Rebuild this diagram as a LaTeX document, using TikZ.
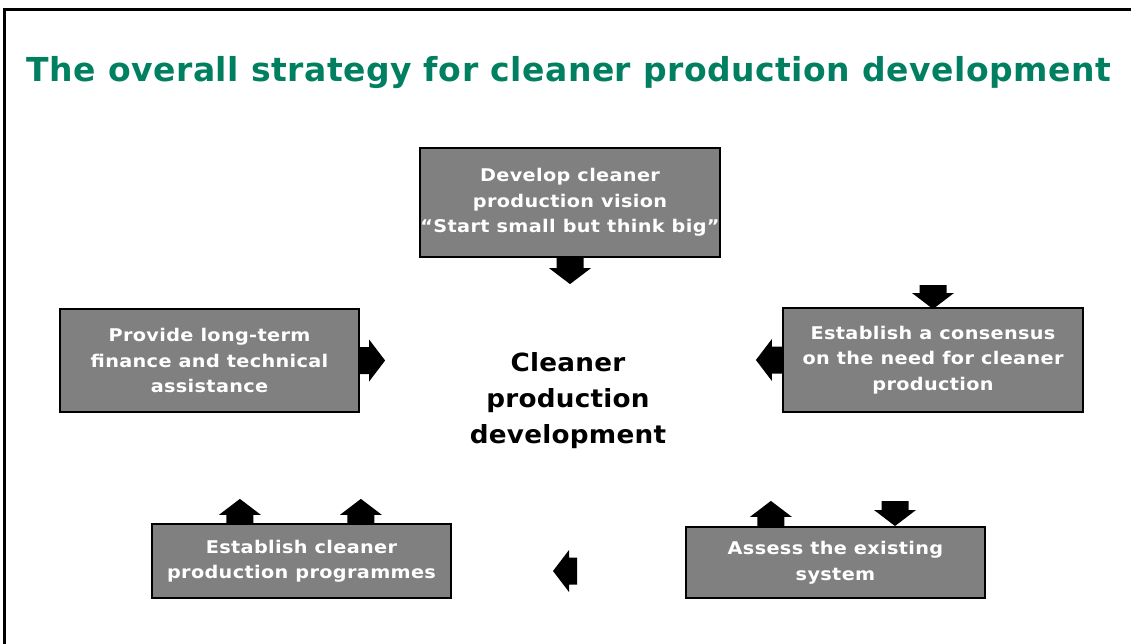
\documentclass[tikz,border=0pt]{standalone}
\usepackage{fontspec}
\usetikzlibrary{calc}
\setmainfont{DejaVu Sans}
\newfontfamily\titlefont[LetterSpace=1.6]{DejaVu Sans}
\newfontfamily\hubfont[FakeStretch=1.05, LetterSpace=1]{DejaVu Sans}
\newfontfamily\boxfont[FakeStretch=1.1, LetterSpace=2]{DejaVu Sans}
\definecolor{titlegreen}{RGB}{0,128,96}
\definecolor{boxgray}{RGB}{128,128,128}
% Solid black block arrow: #1 base point, #2 direction (degrees), #3 total length
\newcommand\blockarrow[3]{%
  \fill[black, shift={(#1)}, rotate=#2]
    (0,-13.5) -- ({#3-16},-13.5) -- ({#3-16},-21) -- (#3,0)
    -- ({#3-16},21) -- ({#3-16},13.5) -- (0,13.5) -- cycle;}
\begin{document}
\begin{tikzpicture}[x=1pt,y=-1pt,
  stepbox/.style={draw=black, line width=2.2pt, fill=boxgray, text=white,
    font=\boxfont\fontsize{17.5}{25.5}\selectfont\bfseries, align=center, inner sep=0pt},
  hub/.style={font=\hubfont\fontsize{25}{36}\selectfont\bfseries, align=center, text=black}]
\useasboundingbox (0,0) rectangle (1131,644);
% page frame
\draw[line width=3pt] (4,660) -- (4,10) -- (1140,10);
% title
\node[text=titlegreen, font=\titlefont\fontsize{33}{40}\selectfont\bfseries, anchor=base]
  (title) at (569,82) {The overall strategy for cleaner production development};
% hub text
\node[hub] (hub) at (568,401) {Cleaner\\production\\development};
% strategy steps
\node[stepbox, minimum width=300, minimum height=109] (vision) at (570,202.5)
  {Develop cleaner\\production vision\\“Start small but think big”};
\node[stepbox, minimum width=299, minimum height=103] (finance) at (209.5,360.5)
  {Provide long-term\\finance and technical\\assistance};
\node[stepbox, minimum width=300, minimum height=104] (consensus) at (933,360)
  {Establish a consensus\\on the need for cleaner\\production};
\node[stepbox, minimum width=299, minimum height=74] (programmes) at (301.5,561)
  {Establish cleaner\\production programmes};
\node[stepbox, minimum width=299, minimum height=71] (assess) at (835.5,562.5)
  {Assess the existing\\system};
% block arrows
\blockarrow{vision.south}{-90}{26}
\blockarrow{finance.east}{0}{25}
\blockarrow{consensus.west}{180}{26}
\coordinate (cin) at (933,285);
\blockarrow{cin}{-90}{24}
\coordinate (pa) at ($(programmes.north west)+(89,0)$);
\coordinate (pb) at ($(programmes.north west)+(210,0)$);
\blockarrow{pa}{90}{24}
\blockarrow{pb}{90}{24}
\coordinate (aa) at ($(assess.north west)+(86,0)$);
\blockarrow{aa}{90}{25}
\coordinate (ain) at (895,501);
\blockarrow{ain}{-90}{25}
\coordinate (mid) at (577,571);
\blockarrow{mid}{180}{24}
\end{tikzpicture}
\end{document}
